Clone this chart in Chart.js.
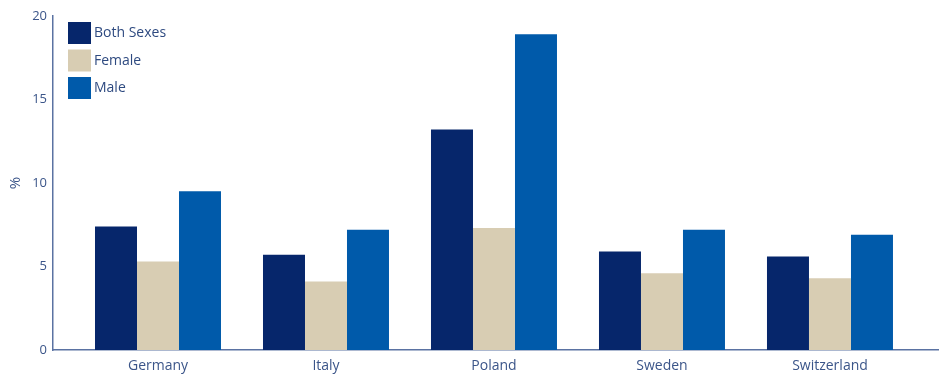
<!DOCTYPE html>
<html>
<head>
<meta charset="utf-8">
<script src="https://cdn.jsdelivr.net/npm/chart.js@4"></script>
<style>
  html, body { margin: 0; padding: 0; background: #ffffff; }
  #wrap { width: 941px; height: 374px; position: relative; }
</style>
</head>
<body>
<div id="wrap"><canvas id="c" width="941" height="374"></canvas></div>
<script>
const categories = ["Germany", "Italy", "Poland", "Sweden", "Switzerland"];
const bothSexes = [7.4, 5.7, 13.2, 5.9, 5.6];
const female = [5.3, 4.1, 7.3, 4.6, 4.3];
const male = [9.5, 7.2, 18.9, 7.2, 6.9];
const yTicks = [0, 5, 10, 15, 20];

const textColor = "#3b5589";
const axisColor = "#5a72a2";

function pts(arr) { return arr.map((v, i) => ({ x: i, y: v })); }

const legendPlugin = {
  id: "insideLegend",
  afterDraw(chart) {
    const ctx = chart.ctx;
    const x0 = 68, y0 = 22, box = 23, step = 27.5;
    ctx.save();
    ctx.font = "14px 'Open Sans', 'Noto Sans', sans-serif";
    ctx.textBaseline = "middle";
    ctx.textAlign = "left";
    chart.data.datasets.forEach((ds, i) => {
      const y = y0 + i * step;
      ctx.fillStyle = ds.backgroundColor;
      ctx.fillRect(x0, y, box, box - 1);
      ctx.fillStyle = "#2e4a80";
      ctx.fillText(ds.label, x0 + box + 3, y + box / 2);
    });
    ctx.restore();
  }
};

new Chart(document.getElementById("c"), {
  type: "bar",
  data: {
    datasets: [
      { label: "Both Sexes", data: pts(bothSexes), backgroundColor: "#06266b" },
      { label: "Female", data: pts(female), backgroundColor: "#d8cdb3" },
      { label: "Male", data: pts(male), backgroundColor: "#005aaa" }
    ]
  },
  options: {
    responsive: false,
    animation: false,
    layout: { padding: { top: 16, right: 3, left: 0, bottom: 0 } },
    datasets: { bar: { categoryPercentage: 0.75, barPercentage: 1.0 } },
    plugins: { legend: { display: false }, tooltip: { enabled: false } },
    scales: {
      x: {
        type: "linear",
        min: -0.625,
        max: 4.643,
        offset: false,
        grid: { display: false, drawTicks: false },
        border: { display: true, color: axisColor, width: 1.5 },
        afterBuildTicks: s => { s.ticks = categories.map((c, i) => ({ value: i })); },
        afterFit: s => { s.height = 24; },
        ticks: {
          autoSkip: false,
          maxRotation: 0,
          padding: 8,
          color: textColor,
          font: { family: "'Open Sans', 'Noto Sans', sans-serif", size: 14 },
          callback: v => categories[v]
        }
      },
      y: {
        min: 0,
        max: 20,
        grid: { display: false, drawTicks: false },
        border: { display: true, color: axisColor, width: 1.5 },
        afterBuildTicks: s => { s.ticks = yTicks.map(v => ({ value: v })); },
        afterFit: s => { s.width = 53; },
        ticks: {
          padding: 6,
          color: textColor,
          font: { family: "'Open Sans', 'Noto Sans', sans-serif", size: 13 }
        },
        title: {
          display: true,
          text: "%",
          color: textColor,
          padding: { top: 7, bottom: 0 },
          font: { family: "'Open Sans', 'Noto Sans', sans-serif", size: 15 }
        }
      }
    }
  },
  plugins: [legendPlugin]
});
</script>
</body>
</html>
